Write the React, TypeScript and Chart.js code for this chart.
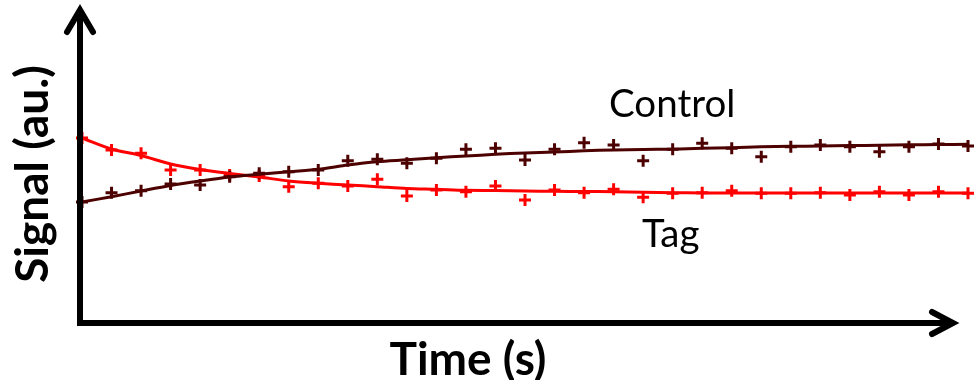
import React, { useEffect, useRef } from "react";
import { Chart, registerables } from "chart.js";

Chart.register(...registerables);

// time index (s, arbitrary units)
const timePoints = Array.from({ length: 31 }, (_, i) => i);

// fitted curves (signal, au.)
const tagFit = [184, 173, 166.5, 158, 152.5, 148.5, 145, 141, 138.7, 137, 135.3, 133.5, 132.7, 131.7, 131.5, 131, 130.7, 130.5, 130.3, 129.8, 129.3, 129.1, 129, 129, 129, 129, 129, 129, 129, 129, 129];
const controlFit = [120, 125.3, 131, 136.5, 141, 145, 147.7, 150.3, 152.7, 157, 160.3, 162.2, 164.3, 166, 167.7, 169, 170, 171.2, 172, 172.5, 172.8, 173.7, 174.2, 175.2, 175.7, 176, 176.4, 176.8, 177.2, 177.5, 177.7];

// measured points (signal, au.)
const tagMeasured = [184, 172, 168.7, 152, 152, 147, 146, 135.3, 138.7, 136, 142.7, 126, 132, 130.3, 136, 122, 132, 129.3, 132.7, 124.7, 128.7, 129.3, 131.3, 128.7, 128.7, 129.3, 127, 130.3, 127, 130.3, 128.7];
const controlMeasured = [120, 129.3, 131.3, 138, 137, 145.3, 148.7, 150.3, 152, 161.3, 162.7, 158.7, 163.7, 172.7, 173.7, 162, 172.7, 179.3, 177, 161.3, 172.7, 178.7, 173.7, 165.3, 175.3, 177, 175.3, 170.3, 175.3, 178, 176];

const seriesLabels = ["Control", "Tag"];
const axisTitles = { x: "Time (s)", y: "Signal (au.)" };

const RED = "#ff0000";
const DARK = "#4d0000";

const pts = (ys: number[]) => ys.map((y, i) => ({ x: timePoints[i], y }));

const decorPlugin = {
  id: "decor",
  afterDraw(chart: any) {
    const { ctx, chartArea } = chart;
    ctx.save();
    // axes
    ctx.strokeStyle = "#000";
    ctx.lineWidth = 6;
    ctx.lineCap = "butt";
    ctx.lineJoin = "miter";
    const ax = chartArea.left - 2;
    const ay = chartArea.bottom + 1;
    ctx.beginPath();
    ctx.moveTo(ax, 9);
    ctx.lineTo(ax, ay);
    ctx.lineTo(953, ay);
    ctx.stroke();
    // arrow heads
    ctx.lineCap = "round";
    ctx.lineJoin = "miter";
    ctx.beginPath();
    ctx.moveTo(ax - 13, 32);
    ctx.lineTo(ax, 10);
    ctx.lineTo(ax + 13, 32);
    ctx.stroke();
    ctx.beginPath();
    ctx.moveTo(932, ay - 11);
    ctx.lineTo(953, ay);
    ctx.lineTo(932, ay + 11);
    ctx.stroke();

    // series labels
    ctx.fillStyle = "#000";
    ctx.font = "38.5px Lato";
    ctx.textBaseline = "alphabetic";
    ctx.textAlign = "left";
    ctx.fillText(seriesLabels[0], 609, 117);
    ctx.fillText(seriesLabels[1], 642, 247);

    // axis titles
    ctx.font = "bold 46px Lato";
    ctx.textAlign = "center";
    ctx.fillText(axisTitles.x, 468, 375);
    ctx.save();
    ctx.translate(48, 174);
    ctx.rotate(-Math.PI / 2);
    ctx.fillText(axisTitles.y, 0, 0);
    ctx.restore();
    ctx.restore();
  },
};

export default function App() {
  const ref = useRef<HTMLCanvasElement | null>(null);
  useEffect(() => {
    document.body.style.margin = "0";
    const chart = new Chart(ref.current as HTMLCanvasElement, {
      type: "scatter",
      data: {
        datasets: [
          {
            type: "line",
            data: pts(controlFit),
            borderColor: DARK,
            borderWidth: 3,
            pointRadius: 0,
            tension: 0.3,
            clip: false,
          } as any,
          {
            type: "line",
            data: pts(tagFit),
            borderColor: RED,
            borderWidth: 3,
            pointRadius: 0,
            tension: 0.3,
            clip: false,
          } as any,
          {
            data: pts(controlMeasured),
            pointStyle: "cross",
            pointRadius: 6,
            borderWidth: 3,
            borderColor: DARK,
            backgroundColor: DARK,
            clip: false,
          } as any,
          {
            data: pts(tagMeasured),
            pointStyle: "cross",
            pointRadius: 6,
            borderWidth: 3,
            borderColor: RED,
            backgroundColor: RED,
            clip: false,
          } as any,
        ],
      },
      options: {
        animation: false,
        responsive: false,
        events: [],
        layout: { padding: { left: 82, right: 2, top: 12, bottom: 58 } },
        plugins: { legend: { display: false }, tooltip: { enabled: false } },
        scales: {
          x: { type: "linear", min: 0, max: 30, display: false },
          y: { type: "linear", min: 0, max: 310, display: false },
        },
      },
      plugins: [decorPlugin],
    });
    return () => chart.destroy();
  }, []);
  return (
    <div style={{ width: 977, height: 380, background: "#fff" }}>
      <canvas ref={ref} width={977} height={380} style={{ display: "block" }} />
    </div>
  );
}
